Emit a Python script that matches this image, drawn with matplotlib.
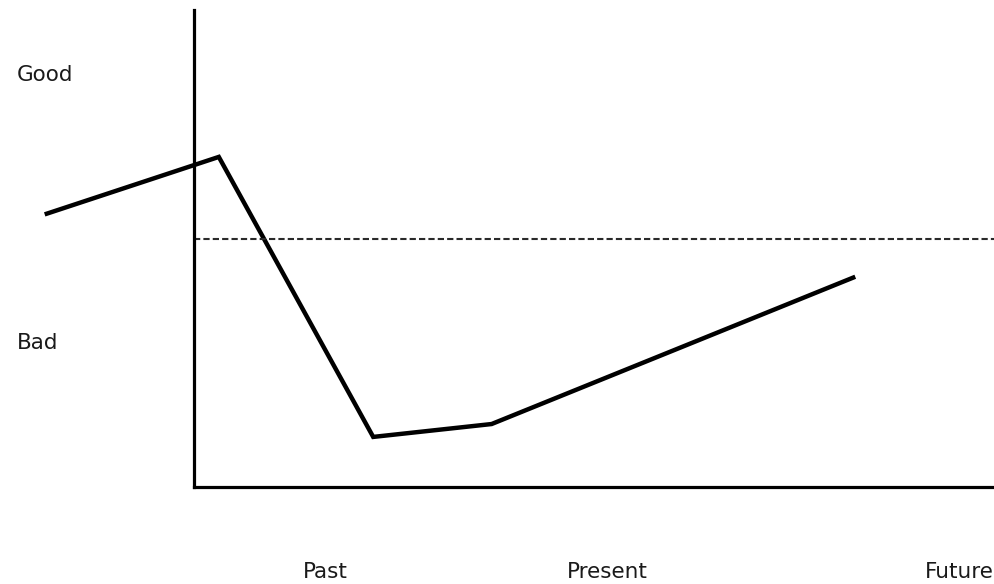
import matplotlib
matplotlib.use("Agg")
import matplotlib.pyplot as plt

# Data (axes units: x 0..100 along time axis, y 0..100 along quality axis)
line_x = [-18.4, 3.1, 22.4, 37.2, 82.4]
line_y = [57.3, 69.2, 10.5, 13.2, 43.9]
threshold_y = 51.9
y_labels = ["Good", "Bad"]
y_label_pos = [86.4, 30.2]
x_labels = ["Past", "Present", "Future"]
x_label_pos = [13.6, 46.6, 91.4]

W, H = 994, 584
fig = plt.figure(figsize=(W / 100, H / 100), dpi=100)
left, right, top, bottom = 194, 994, 10, 487
ax = fig.add_axes([left / W, 1 - bottom / H, (right - left) / W, (bottom - top) / H])
ax.set_xlim(0, 100)
ax.set_ylim(0, 100)
for s in ["top", "right"]:
    ax.spines[s].set_visible(False)
for s in ["left", "bottom"]:
    ax.spines[s].set_linewidth(2.3)
    ax.spines[s].set_color("black")
ax.set_xticks([])
ax.set_yticks([])

ax.plot(line_x, line_y, color="black", lw=3.2, clip_on=False, solid_joinstyle="miter")
ax.plot([0, 100], [threshold_y, threshold_y], color="#2a2a2a", lw=1.5,
        linestyle=(0, (3, 1.5)), clip_on=False)

for lab, yp in zip(y_labels, y_label_pos):
    ax.text(-22.1, yp, lab, fontsize=15.5, ha="left", va="center",
            family="DejaVu Sans", color="#1a1a1a", clip_on=False)
for lab, xp in zip(x_labels, x_label_pos):
    ax.text(xp, -17.8, lab, fontsize=15.5, ha="left", va="center",
            family="DejaVu Sans", color="#1a1a1a", clip_on=False)

fig.savefig("out.png", dpi=100)
